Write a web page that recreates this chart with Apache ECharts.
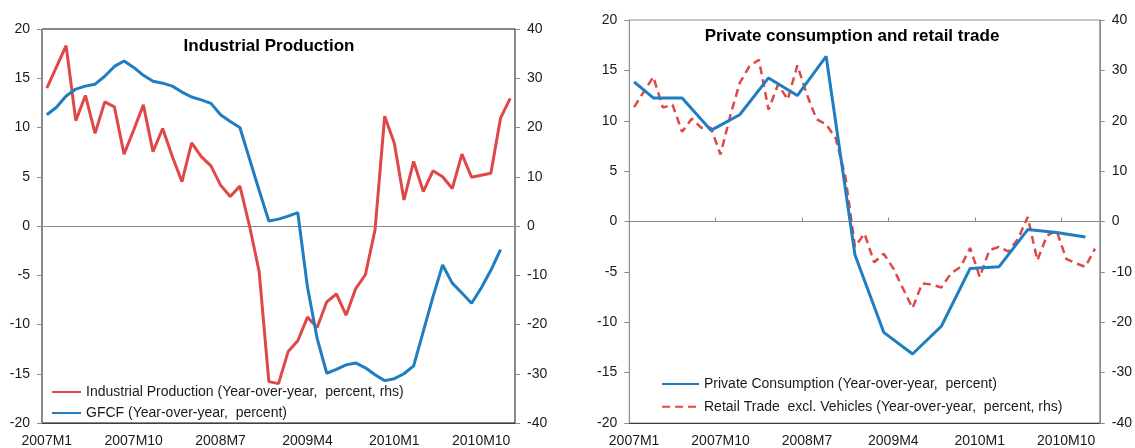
<!DOCTYPE html>
<html>
<head>
<meta charset="utf-8">
<script src="https://cdn.jsdelivr.net/npm/echarts@6/dist/echarts.min.js"></script>
<style>
  html, body { margin: 0; padding: 0; background: #fff; }
  #chart { width: 1135px; height: 448px; }
</style>
</head>
<body>
<div id="chart"></div>
<script>
// months 2007M1 .. 2011M1
const months = []
for (let y = 2007; y <= 2010; y++) {
  for (let m = 1; m <= 12; m++) months.push(y + 'M' + m)
}
months.push('2011M1')

// left panel: Industrial Production (rhs) and GFCF (lhs)
const industrialProduction = [
  28.0, 32.3, 36.6, 21.4, 26.5, 18.8, 25.2, 24.2, 14.6, 19.5, 24.6, 15.1,
  19.8, 14.1, 9.0, 16.9, 14.1, 12.2, 8.3, 6.0, 8.1, 0.0, -9.3, -31.6,
  -32.0, -25.5, -23.3, -18.5, -20.6, -15.4, -13.8, -18.1, -12.7, -9.9, -0.8, 22.3,
  16.8, 5.3, 13.1, 7.0, 11.2, 10.0, 7.6, 14.6, 9.9, 10.3, 10.7, 21.9,
  25.9
]
const gfcf = [
  11.3, 12.05, 13.2, 13.9, 14.2, 14.4, 15.2, 16.2, 16.75, 16.1, 15.3, 14.7,
  14.5, 14.2, 13.6, 13.1, 12.8, 12.45, 11.3, 10.6, 10.0, 6.8, 3.6, 0.5,
  0.7, 1.0, 1.35, -6.2, -11.4, -14.95, -14.55, -14.1, -13.9, -14.4, -15.1, -15.7,
  -15.5, -15.0, -14.2, -10.7, -7.2, -3.96, -5.8, -6.8, -7.85, -6.3, -4.5, -2.4,
  null
]

// right panel: Private Consumption (quarterly, lhs) and Retail Trade (rhs)
const privateConsumption = [
  13.85, null, 12.27, null, null, 12.27, null, null, 9.05, null, null, 10.6,
  null, null, 14.25, null, null, 12.5, null, null, 16.4, null, null, -3.3,
  null, null, -11.0, null, null, -13.15, null, null, -10.4, null, null, -4.66,
  null, null, -4.5, null, null, -0.8, null, null, -1.1, null, null, -1.54,
  null
]
const retailTrade = [
  22.7, 25.7, 28.7, 22.6, 23.2, 17.8, 20.4, 18.6, 18.6, 13.3, 20.9, 27.5,
  30.8, 32.1, 22.2, 27.2, 24.2, 31.0, 25.2, 20.3, 19.3, 16.5, 9.0, -5.0,
  -2.4, -8.1, -6.4, -9.3, -13.3, -17.2, -12.3, -12.5, -13.1, -10.3, -9.0, -5.25,
  -11.0, -5.7, -5.05, -6.0, -3.4, 0.9, -7.7, -2.8, -1.8, -7.4, -8.3, -9.0,
  -5.4
]

const FONT = '"Liberation Sans", Arial, sans-serif'
const RED = '#E04848'
const BLUE = '#1F7DC1'
const TEXT = '#1a1a1a'
const GRAY = '#8c8c8c'

const names = {
  ip: 'Industrial Production (Year-over-year,  percent, rhs)',
  gfcf: 'GFCF (Year-over-year,  percent)',
  pc: 'Private Consumption (Year-over-year,  percent)',
  rt: 'Retail Trade  excl. Vehicles (Year-over-year,  percent, rhs)'
}

function makeY(gridIndex, position, min, max, interval) {
  return {
    type: 'value', gridIndex, position, min, max, interval,
    axisLine: { show: true, onZero: false, lineStyle: { color: GRAY } },
    axisTick: { show: true, length: 5, lineStyle: { color: GRAY } },
    axisLabel: { color: TEXT, fontSize: 14, fontFamily: FONT, margin: 12 },
    splitLine: { show: false }
  }
}

// bottom axis that carries the labels
function makeLabelX(gridIndex) {
  return {
    type: 'category', gridIndex, position: 'bottom', data: months, boundaryGap: true,
    axisLine: { show: true, onZero: false, lineStyle: { color: '#404040' } },
    axisTick: { show: false },
    axisLabel: { interval: 8, color: TEXT, fontSize: 14, fontFamily: FONT, margin: 11 }
  }
}

// axis line drawn at y = 0
function makeZeroX(gridIndex, ticks) {
  return {
    type: 'category', gridIndex, position: 'bottom', data: months, boundaryGap: true,
    axisLine: { show: true, onZero: true, lineStyle: { color: GRAY } },
    axisTick: { show: ticks, inside: true, length: 4, interval: 8, lineStyle: { color: GRAY } },
    axisLabel: { show: false }
  }
}

function lineSeries(name, data, xIdx, yIdx, color, extra) {
  return Object.assign({
    name, type: 'line', data, xAxisIndex: xIdx, yAxisIndex: yIdx,
    symbol: 'none', connectNulls: true, animation: false,
    lineStyle: { color, width: 3 },
    itemStyle: { color }
  }, extra || {})
}

const legendText = { color: TEXT, fontSize: 14, fontFamily: FONT }

const option = {
  backgroundColor: '#fff',
  animation: false,
  title: [
    { text: 'Industrial Production', left: 269, top: 38, textAlign: 'center', padding: 0,
      textStyle: { fontSize: 17, fontWeight: 'bold', color: '#000', fontFamily: FONT } },
    { text: 'Private consumption and retail trade', left: 852, top: 28, textAlign: 'center', padding: 0,
      textStyle: { fontSize: 17, fontWeight: 'bold', color: '#000', fontFamily: FONT } }
  ],
  legend: [
    { orient: 'vertical', left: 51, top: 385, itemWidth: 29, itemHeight: 14, itemGap: 7,
      padding: 0, data: [names.ip, names.gfcf], textStyle: legendText, itemStyle: { opacity: 0 } },
    { orient: 'vertical', left: 661, top: 377, itemWidth: 37, itemHeight: 14, itemGap: 8.7,
      padding: 0, data: [names.pc, names.rt], textStyle: legendText, itemStyle: { opacity: 0 } }
  ],
  grid: [
    { left: 42, right: 620, top: 29, bottom: 24.5, show: true, borderColor: '#111', borderWidth: 1 },
    { left: 629.3, right: 32.3, top: 20, bottom: 22.3, show: true, borderColor: GRAY, borderWidth: 1 }
  ],
  xAxis: [makeLabelX(0), makeZeroX(0, false), makeLabelX(1), makeZeroX(1, true)],
  yAxis: [
    makeY(0, 'left', -20, 20, 5),
    makeY(0, 'right', -40, 40, 10),
    makeY(1, 'left', -20, 20, 5),
    makeY(1, 'right', -40, 40, 10)
  ],
  series: [
    lineSeries(names.ip, industrialProduction, 0, 1, RED),
    lineSeries(names.gfcf, gfcf, 0, 0, BLUE),
    lineSeries(names.rt, retailTrade, 2, 3, RED, { lineStyle: { color: RED, width: 2.5, type: [8, 5] } }),
    lineSeries(names.pc, privateConsumption, 2, 2, BLUE)
  ]
}

const chart = echarts.init(document.getElementById('chart'), null, { renderer: 'canvas' })
chart.setOption(option)
</script>
</body>
</html>
